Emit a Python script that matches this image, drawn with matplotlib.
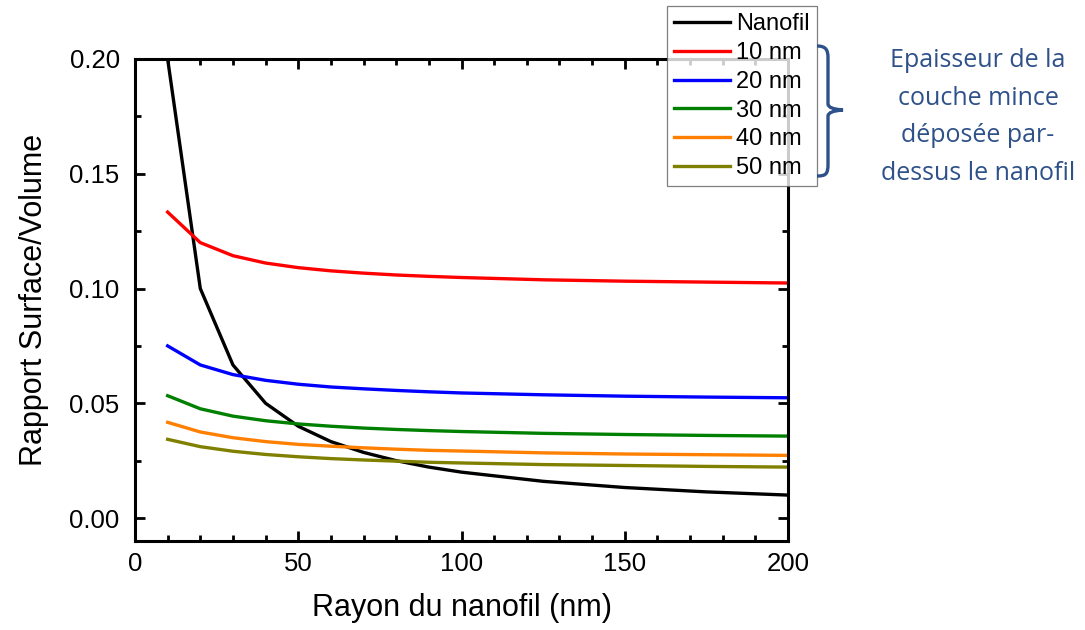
import matplotlib
matplotlib.use("Agg")
import matplotlib.pyplot as plt
from matplotlib.path import Path
from matplotlib.patches import PathPatch
from matplotlib.ticker import MultipleLocator

plt.rcParams['font.family'] = ['Liberation Sans', 'DejaVu Sans']

# --- Data ---
radius = [10, 20, 30, 40, 50, 60, 70, 80, 90, 100, 125, 150, 175, 200]
nanofil = [0.2, 0.1, 0.0667, 0.05, 0.04, 0.0333, 0.0286, 0.025, 0.0222, 0.02,
           0.016, 0.0133, 0.0114, 0.01]
shell_10 = [0.1333, 0.12, 0.1143, 0.1111, 0.1091, 0.1077, 0.1067, 0.1059, 0.1053,
            0.1048, 0.1038, 0.1032, 0.1028, 0.1024]
shell_20 = [0.075, 0.0667, 0.0625, 0.06, 0.0583, 0.0571, 0.0563, 0.0556, 0.055,
            0.0545, 0.0537, 0.0531, 0.0527, 0.0524]
shell_30 = [0.0533, 0.0476, 0.0444, 0.0424, 0.041, 0.04, 0.0392, 0.0386, 0.0381,
            0.0377, 0.0369, 0.0364, 0.036, 0.0357]
shell_40 = [0.0417, 0.0375, 0.035, 0.0333, 0.0321, 0.0313, 0.0306, 0.03, 0.0295,
            0.0292, 0.0284, 0.0279, 0.0276, 0.0273]
shell_50 = [0.0343, 0.0311, 0.0291, 0.0277, 0.0267, 0.0259, 0.0253, 0.0248, 0.0243,
            0.024, 0.0233, 0.0229, 0.0225, 0.0222]

series = [
    ("Nanofil", nanofil, "black"),
    ("10 nm", shell_10, "#ff0000"),
    ("20 nm", shell_20, "#0000ff"),
    ("30 nm", shell_30, "#008000"),
    ("40 nm", shell_40, "#ff8000"),
    ("50 nm", shell_50, "#808000"),
]
note_lines = ["Epaisseur de la", "couche mince", "déposée par-", "dessus le nanofil"]
NOTE_COLOR = "#2e5189"

W, H = 1085, 630
fig = plt.figure(figsize=(W / 100, H / 100), dpi=100)
ax = fig.add_axes([135 / W, 1 - 541 / H, (788 - 135) / W, (541 - 59) / H])

for label, vals, color in series:
    ax.plot(radius, vals, color=color, lw=2.4, label=label)

ax.set_xlim(0, 200)
ax.set_ylim(-0.01, 0.2)
ax.xaxis.set_major_locator(MultipleLocator(50))
ax.xaxis.set_minor_locator(MultipleLocator(10))
ax.yaxis.set_major_locator(MultipleLocator(0.05))
ax.yaxis.set_minor_locator(MultipleLocator(0.025))
ax.yaxis.set_major_formatter(plt.FormatStrFormatter("%.2f"))
ax.tick_params(which="both", direction="in", top=True, right=True, width=2,
               labelsize=18.5, pad=8)
ax.tick_params(axis="y", pad=11)
ax.tick_params(which="major", length=7)
ax.tick_params(which="minor", length=4)
for s in ax.spines.values():
    s.set_linewidth(2.2)

ax.set_xlabel("Rayon du nanofil (nm)", fontsize=22, labelpad=12)
ax.set_ylabel("Rapport Surface/Volume", fontsize=22, labelpad=15)

leg = ax.legend(loc="upper right", bbox_to_anchor=(817 / W, 1 - 6 / H),
                bbox_transform=fig.transFigure, fontsize=17, frameon=True,
                fancybox=False, handlelength=2.4, handletextpad=0.25,
                borderpad=0.3, borderaxespad=0, labelspacing=0.29)
leg.get_frame().set_edgecolor("#606060")
leg.get_frame().set_linewidth(0.9)
leg.set_zorder(10)

# brace next to the thickness entries
def fx(px):
    return px / W

def fy(py):
    return 1 - py / H

verts = [(817, 46), (826, 46), (828, 50), (828, 58),
         (828, 104), (828, 109), (843, 110),
         (828, 111), (828, 116), (828, 164),
         (828, 174), (826, 176), (817, 176)]
codes = [Path.MOVETO, Path.CURVE4, Path.CURVE4, Path.CURVE4,
         Path.LINETO, Path.CURVE3, Path.CURVE3,
         Path.CURVE3, Path.CURVE3, Path.LINETO,
         Path.CURVE4, Path.CURVE4, Path.CURVE4]
brace = Path([(fx(x), fy(y)) for x, y in verts], codes)
fig.patches.append(PathPatch(brace, transform=fig.transFigure, fill=False,
                             edgecolor=NOTE_COLOR, lw=2.4))

fig.text(978 / W, 1 - 117 / H, "\n".join(note_lines), ha="center", va="center",
         color=NOTE_COLOR, fontsize=18, family=["Open Sans", "DejaVu Sans"],
         linespacing=1.68)

fig.savefig("out.png", dpi=100)
